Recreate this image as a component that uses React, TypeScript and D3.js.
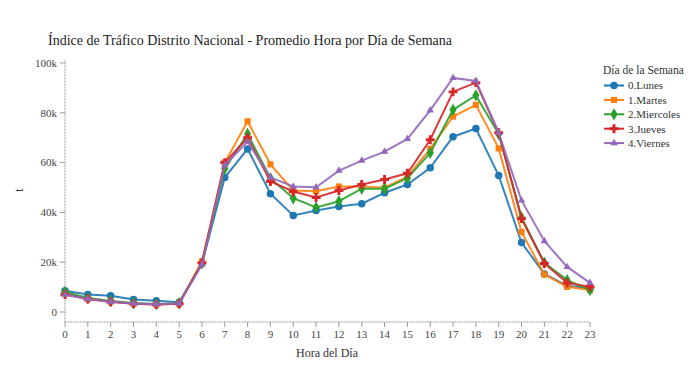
import React from "react";
import * as d3 from "d3";

const hours = d3.range(0, 24);
const seriesNames = ["0.Lunes", "1.Martes", "2.Miercoles", "3.Jueves", "4.Viernes"];
const lunes = [8.5, 7, 6.5, 5, 4.5, 3.9, 19.5, 54, 65.5, 47.5, 38.8, 40.8, 42.4, 43.5, 47.9, 51.2, 57.9, 70.4, 73.7, 54.8, 27.9, 15.3, 10.5, 9.5];
const martes = [7.5, 5.3, 4.2, 3.3, 3, 3.3, 20.3, 60, 76.6, 59.3, 48.8, 48.5, 50.4, 50.4, 49.9, 54.4, 65.5, 78.5, 83.2, 65.7, 32.1, 15.1, 10.1, 8.8];
const miercoles = [8, 5.6, 4.4, 3.6, 3.2, 3.5, 19.5, 57.5, 71.5, 53.7, 45.7, 42, 44.5, 49.5, 49.5, 53.7, 63.9, 81.2, 87, 71.5, 38, 19.8, 12.8, 8.8];
const jueves = [7, 5.2, 4.1, 3.3, 3, 3.3, 19.8, 60, 70, 52.4, 48.4, 46, 48.8, 51.2, 53.2, 55.7, 69.2, 88.4, 92.1, 72, 37.5, 19.5, 11.7, 10.1];
const viernes = [7, 5.2, 4.1, 3.4, 3.1, 3.4, 19, 59, 68.4, 54, 50.4, 50.1, 56.8, 60.8, 64.4, 69.5, 81, 94, 92.8, 72, 44.8, 28.5, 18.1, 11.7];
const seriesValues = [lunes, martes, miercoles, jueves, viernes];
const yTicks = [0, 20000, 40000, 60000, 80000, 100000];
const colors = ["#1f77b4", "#ff7f0e", "#2ca02c", "#d62728", "#9467bd"];
const symbols = [d3.symbolCircle, d3.symbolSquare, d3.symbolDiamond, d3.symbolCross, d3.symbolTriangle];
const symSizes = [44, 38, 44, 44, 24];

const FONT = "'Liberation Serif', 'DejaVu Serif', serif";

export default function App() {
  const x = d3.scaleLinear().domain([0, 23]).range([65, 590]);
  const y = d3.scaleLinear().domain([0, 100000]).range([312, 63]);
  const line = d3
    .line<number>()
    .x((_, i) => x(hours[i]))
    .y((d) => y(d * 1000));
  const fmt = (v: number) => (v === 0 ? "0" : `${v / 1000}k`);
  const axisColor = "#999";

  return (
    <svg
      width={697}
      height={375}
      style={{ position: "absolute", left: 0, top: 0, background: "#fff", fontFamily: FONT }}
    >
      <text x={48} y={45} fontSize={14} fill="#222">
        Índice de Tráfico Distrito Nacional - Promedio Hora por Día de Semana
      </text>

      {/* y axis */}
      <line x1={65} x2={65} y1={60} y2={322} stroke={axisColor} strokeWidth={1} strokeDasharray="1 0.5" />
      {yTicks.map((t) => (
        <g key={t}>
          <line x1={60} x2={65} y1={y(t)} y2={y(t)} stroke={axisColor} />
          <text x={57} y={y(t)} dy="0.35em" textAnchor="end" fontSize={11} fill="#444">
            {fmt(t)}
          </text>
        </g>
      ))}
      <text transform={`translate(23,190) rotate(-90)`} textAnchor="middle" fontSize={12} fill="#333">
        t
      </text>

      {/* x axis */}
      <line x1={65} x2={590} y1={322} y2={322} stroke={axisColor} strokeWidth={1} strokeDasharray="1 0.5" />
      {hours.map((h) => (
        <g key={h}>
          <line x1={x(h)} x2={x(h)} y1={322} y2={327} stroke={axisColor} />
          <text x={x(h)} y={338} textAnchor="middle" fontSize={11} fill="#444">
            {h}
          </text>
        </g>
      ))}
      <text x={327} y={357} textAnchor="middle" fontSize={12} fill="#333">
        Hora del Día
      </text>

      {/* series */}
      {seriesValues.map((vals, si) => (
        <g key={si}>
          <path d={line(vals) || ""} fill="none" stroke={colors[si]} strokeWidth={2} opacity={0.9} />
          {vals.map((v, i) => (
            <path
              key={i}
              d={d3.symbol(symbols[si], symSizes[si])() || ""}
              transform={`translate(${x(hours[i])},${y(v * 1000)})`}
              fill={colors[si]}
            />
          ))}
        </g>
      ))}

      {/* legend */}
      <text x={603} y={74} fontSize={11.5} fill="#333">
        Día de la Semana
      </text>
      {seriesNames.map((n, i) => {
        const ly = 85.5 + i * 14.4;
        return (
          <g key={n}>
            <line x1={604} x2={624} y1={ly} y2={ly} stroke={colors[i]} strokeWidth={2} />
            <path d={d3.symbol(symbols[i], symSizes[i])() || ""} transform={`translate(614,${ly})`} fill={colors[i]} />
            <text x={628} y={ly} dy="0.35em" fontSize={11} fill="#333">
              {n}
            </text>
          </g>
        );
      })}
    </svg>
  );
}
